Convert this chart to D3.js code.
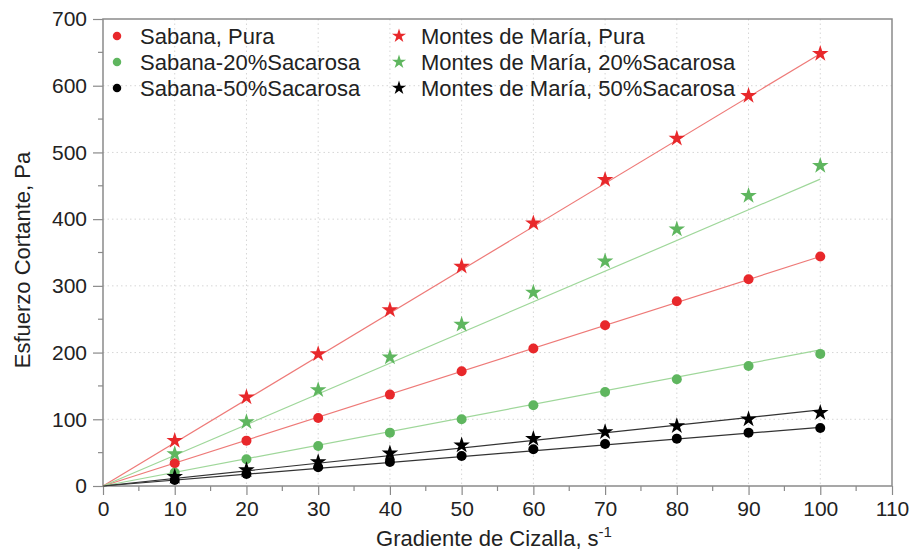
<!DOCTYPE html>
<html><head><meta charset="utf-8">
<script src="https://cdn.jsdelivr.net/npm/d3@7"></script>
<style>body{margin:0;background:#fff}svg{display:block;font-family:"Liberation Sans",Arial,Helvetica,sans-serif}</style>
</head><body><svg id="c" width="912" height="555"></svg>
<script>
const shearRates = [10,20,30,40,50,60,70,80,90,100];
const xTicks = [0,10,20,30,40,50,60,70,80,90,100,110];
const yTicks = [0,100,200,300,400,500,600,700];
const sabanaPura = [34,68,102,137,172,206,241,277,310,344];
const sabana20 = [20,40,60,80,100,121,141,160,180,198];
const sabana50 = [9,18,28,36,45,55,63,71,80,87];
const montesPura = [68,133,198,264,329,394,459,521,585,648];
const montes20 = [48,96,144,193,242,290,337,385,435,480];
const montes50 = [14,24,36,49,61,71,81,90,100,110];
const fitX = [0,100];
const fitSabanaPura = [0,344];
const fitSabana20 = [0,204];
const fitSabana50 = [0,88];
const fitMontesPura = [0,648];
const fitMontes20 = [0,460];
const fitMontes50 = [0,114];

const series = [
  {name:"Sabana, Pura", vals:sabanaPura, fit:fitSabanaPura, color:"#e8282b", line:"#ee7a78", shape:"circle"},
  {name:"Sabana-20%Sacarosa", vals:sabana20, fit:fitSabana20, color:"#5fb65f", line:"#9fd79a", shape:"circle"},
  {name:"Sabana-50%Sacarosa", vals:sabana50, fit:fitSabana50, color:"#000000", line:"#333333", shape:"circle"},
  {name:"Montes de María, Pura", vals:montesPura, fit:fitMontesPura, color:"#e8282b", line:"#ee7a78", shape:"star"},
  {name:"Montes de María, 20%Sacarosa", vals:montes20, fit:fitMontes20, color:"#5fb65f", line:"#9fd79a", shape:"star"},
  {name:"Montes de María, 50%Sacarosa", vals:montes50, fit:fitMontes50, color:"#000000", line:"#333333", shape:"star"}
];

const svg = d3.select("#c");
const L=103, R=892, T=19, B=486;
const x = d3.scaleLinear().domain([0,110]).range([L,R]);
const y = d3.scaleLinear().domain([0,700]).range([B,T]);

// grid
const g = svg.append("g");
g.selectAll(".gx").data(xTicks.filter(d=>d>0&&d<110)).enter().append("line")
  .attr("x1",d=>x(d)).attr("x2",d=>x(d)).attr("y1",T).attr("y2",B)
  .attr("stroke","#d6d6d6").attr("stroke-width",1).attr("stroke-dasharray","1.5,3");
g.selectAll(".gy").data(yTicks.filter(d=>d>0&&d<700)).enter().append("line")
  .attr("y1",d=>y(d)).attr("y2",d=>y(d)).attr("x1",L).attr("x2",R)
  .attr("stroke","#d6d6d6").attr("stroke-width",1).attr("stroke-dasharray","1.5,3");

// frame
svg.append("rect").attr("x",L).attr("y",T).attr("width",R-L).attr("height",B-T)
  .attr("fill","none").attr("stroke","#8a8a8a").attr("stroke-width",1.5);

// axes
const xAxis = d3.axisBottom(x).tickValues(xTicks).tickSize(9).tickPadding(6).tickFormat(d3.format("d"));
const xa = svg.append("g").attr("transform",`translate(0,${B})`).call(xAxis);
const yAxis = d3.axisLeft(y).tickValues(yTicks).tickSize(10).tickPadding(6).tickFormat(d3.format("d"));
const ya = svg.append("g").attr("transform",`translate(${L},0)`).call(yAxis);
[xa,ya].forEach(a=>{
  a.select(".domain").remove();
  a.selectAll(".tick line").attr("stroke","#8a8a8a").attr("stroke-width",1.2);
  a.selectAll(".tick text").attr("fill","#222").style("font-size","21px");
});
// minor ticks
const xMinor = d3.range(5,110,10);
svg.append("g").selectAll("line").data(xMinor).enter().append("line")
  .attr("x1",d=>x(d)).attr("x2",d=>x(d)).attr("y1",B).attr("y2",B+5)
  .attr("stroke","#8a8a8a").attr("stroke-width",1.2);
const yMinor = d3.range(50,700,100);
svg.append("g").selectAll("line").data(yMinor).enter().append("line")
  .attr("y1",d=>y(d)).attr("y2",d=>y(d)).attr("x1",L-5).attr("x2",L)
  .attr("stroke","#8a8a8a").attr("stroke-width",1.2);

// axis titles
const xt = svg.append("text").attr("x",494).attr("y",546).attr("text-anchor","middle")
  .style("font-size","22px").attr("fill","#222");
xt.append("tspan").text("Gradiente de Cizalla, s");
xt.append("tspan").attr("dy",-9).style("font-size","15px").text("-1");
svg.append("text").attr("transform",`translate(30,260) rotate(-90)`).attr("text-anchor","middle")
  .style("font-size","22px").attr("fill","#222").text("Esfuerzo Cortante, Pa");

// fits
const line = d3.line().x((d,i)=>x(fitX[i])).y(d=>y(d));
series.forEach(s=>{
  svg.append("path").attr("d",line(s.fit)).attr("fill","none").attr("stroke",s.line).attr("stroke-width",1.2);
});

const star = d3.symbol().type(d3.symbolStar);
function drawMarker(sel, s, cx, cy, scale){
  if(s.shape==="circle"){
    sel.append("circle").attr("cx",cx).attr("cy",cy).attr("r",5*scale).attr("fill",s.color);
  } else {
    sel.append("path").attr("d",star.size(85*scale*scale)()).attr("transform",`translate(${cx},${cy})`).attr("fill",s.color);
  }
}
series.forEach(s=>{
  const gg = svg.append("g");
  s.vals.forEach((v,i)=>drawMarker(gg,s,x(shearRates[i]),y(v),1));
});

// legend
const legX=[117,399], legTX=[140,421], legY=[36,62,88];
series.forEach((s,i)=>{
  const col=Math.floor(i/3), row=i%3;
  const lg = svg.append("g");
  drawMarker(lg,s,legX[col],legY[row],0.85);
  lg.append("text").attr("x",legTX[col]).attr("y",legY[row]).attr("dy","0.35em")
    .style("font-size","22px").attr("fill","#222").text(s.name);
});
</script></body></html>
